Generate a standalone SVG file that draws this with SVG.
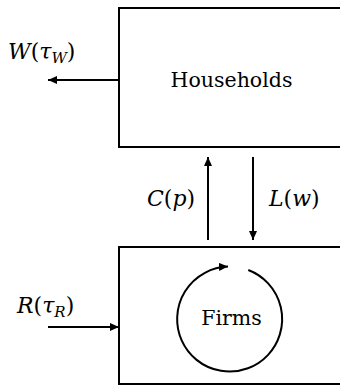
<svg xmlns="http://www.w3.org/2000/svg" width="340" height="386" viewBox="0 0 340 386">
<style>
.box{fill:#fff;stroke:#000;stroke-width:2}
.ln{fill:none;stroke:#000;stroke-width:2}
.t{font-family:"DejaVu Serif","Liberation Serif",serif;font-size:20.5px;fill:#000}
.m{font-family:"DejaVu Serif","Liberation Serif",serif;font-size:22px;fill:#000}
.i{font-style:italic}
.s{font-size:15px;font-style:italic}
</style>
<defs>
<marker id="ah" markerWidth="10" markerHeight="8" refX="9" refY="4" orient="auto" markerUnits="userSpaceOnUse">
<path d="M0,0 L9,4 L0,8 Z" fill="#000"/>
</marker>
</defs>
<g id="households">
<rect class="box" x="119" y="8" width="230" height="139"/>
<text class="t" x="231.5" y="87" text-anchor="middle">Households</text>
</g>
<g id="firms">
<rect class="box" x="119" y="247" width="230" height="137"/>
<text class="t" x="231.5" y="325" text-anchor="middle">Firms</text>
</g>
<g id="connectors">
<line class="ln" x1="119" y1="80" x2="48" y2="80" marker-end="url(#ah)"/>
<line class="ln" x1="48" y1="327" x2="119" y2="327" marker-end="url(#ah)"/>
<line class="ln" x1="208" y1="240" x2="208" y2="157" marker-end="url(#ah)"/>
<line class="ln" x1="253" y1="157" x2="253" y2="240" marker-end="url(#ah)"/>
<path class="ln" d="M248.3,270 A52.5,52.5 0 1 1 228,266.6" marker-end="url(#ah)"/>
</g>
<g id="labels">
<text class="m" x="8" y="59"><tspan class="i">W</tspan>(<tspan class="i">τ</tspan><tspan class="s" dy="4">W</tspan><tspan dy="-4">)</tspan></text>
<text class="m" x="17" y="313"><tspan class="i">R</tspan>(<tspan class="i">τ</tspan><tspan class="s" dy="4">R</tspan><tspan dy="-4">)</tspan></text>
<text class="m" x="147" y="206"><tspan class="i">C</tspan>(<tspan class="i">p</tspan>)</text>
<text class="m" x="269" y="206"><tspan class="i">L</tspan>(<tspan class="i">w</tspan>)</text>
</g>
</svg>
